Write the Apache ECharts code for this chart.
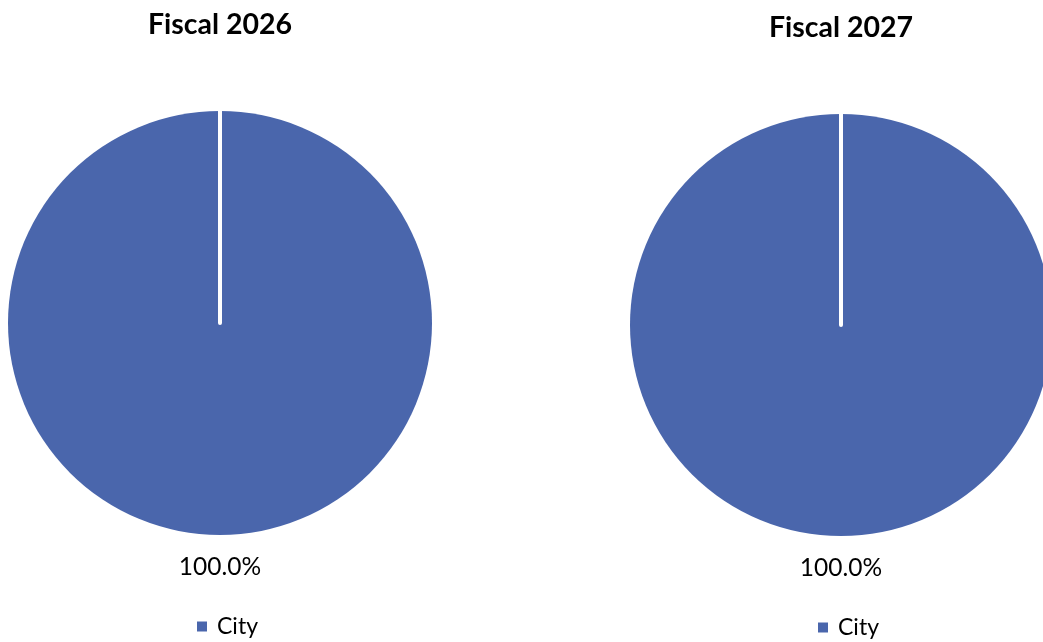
<!DOCTYPE html>
<html>
<head>
<meta charset="utf-8">
<script src="https://cdn.jsdelivr.net/npm/echarts@6/dist/echarts.min.js"></script>
<style>
html,body{margin:0;padding:0;background:#fff;}
#c{width:1043px;height:642px;}
</style>
</head>
<body>
<div id="c"></div>
<script>
const titles = ['Fiscal 2026', 'Fiscal 2027'];
const categories = ['City'];
const values2026 = [100];
const values2027 = [100];

const color = '#4A66AC';
const font = 'Lato, "Open Sans", sans-serif';
const chart = echarts.init(document.getElementById('c'));

function pct(p) { return p.percent.toFixed(1) + '%'; }

const layouts = [
  { cx: 220, cy: 323, r: 212, titleTop: 5, legendTop: 610 },
  { cx: 841, cy: 325, r: 211, titleTop: 8, legendTop: 611 }
];
const allValues = [values2026, values2027];

const option = {
  backgroundColor: '#fff',
  animation: false,
  title: layouts.map((l, i) => ({
    text: titles[i],
    left: l.cx - 5, top: l.titleTop,
    textAlign: 'center',
    textStyle: { fontFamily: font, fontWeight: 'bold', fontSize: 28.5, color: '#000' }
  })),
  legend: layouts.map((l, i) => ({
    data: categories,
    left: l.cx - 28, top: l.legendTop,
    icon: 'rect', itemWidth: 10, itemHeight: 10, itemGap: 10,
    textStyle: { fontFamily: font, fontSize: 23, color: '#000', padding: [0, 0, 0, 5] }
  })),
  polar: layouts.map(l => ({ center: [l.cx, l.cy], radius: [0, l.r] })),
  angleAxis: layouts.map((l, i) => ({
    polarIndex: i, startAngle: 90, show: false, min: 0, max: 1
  })),
  radiusAxis: layouts.map((l, i) => ({
    polarIndex: i, min: 0, max: 1, z: 10,
    axisLine: { show: true, lineStyle: { color: '#fff', width: 4, cap: 'round' } },
    axisTick: { show: false }, axisLabel: { show: false }, splitLine: { show: false }
  })),
  series: layouts.map((l, i) => ({
    type: 'pie',
    center: [l.cx, l.cy],
    radius: [0, l.r],
    startAngle: 90,
    clockwise: true,
    data: categories.map((c, k) => ({ name: c, value: allValues[i][k] })),
    itemStyle: { color: color },
    label: {
      show: true, position: 'outside', formatter: pct,
      fontFamily: font, fontSize: 24.5, color: '#000'
    },
    labelLine: { show: false, length: 32, length2: 0 },
    labelLayout: { align: 'center', dx: 5 },
    emphasis: { disabled: true }
  }))
};
chart.setOption(option);
</script>
</body>
</html>
